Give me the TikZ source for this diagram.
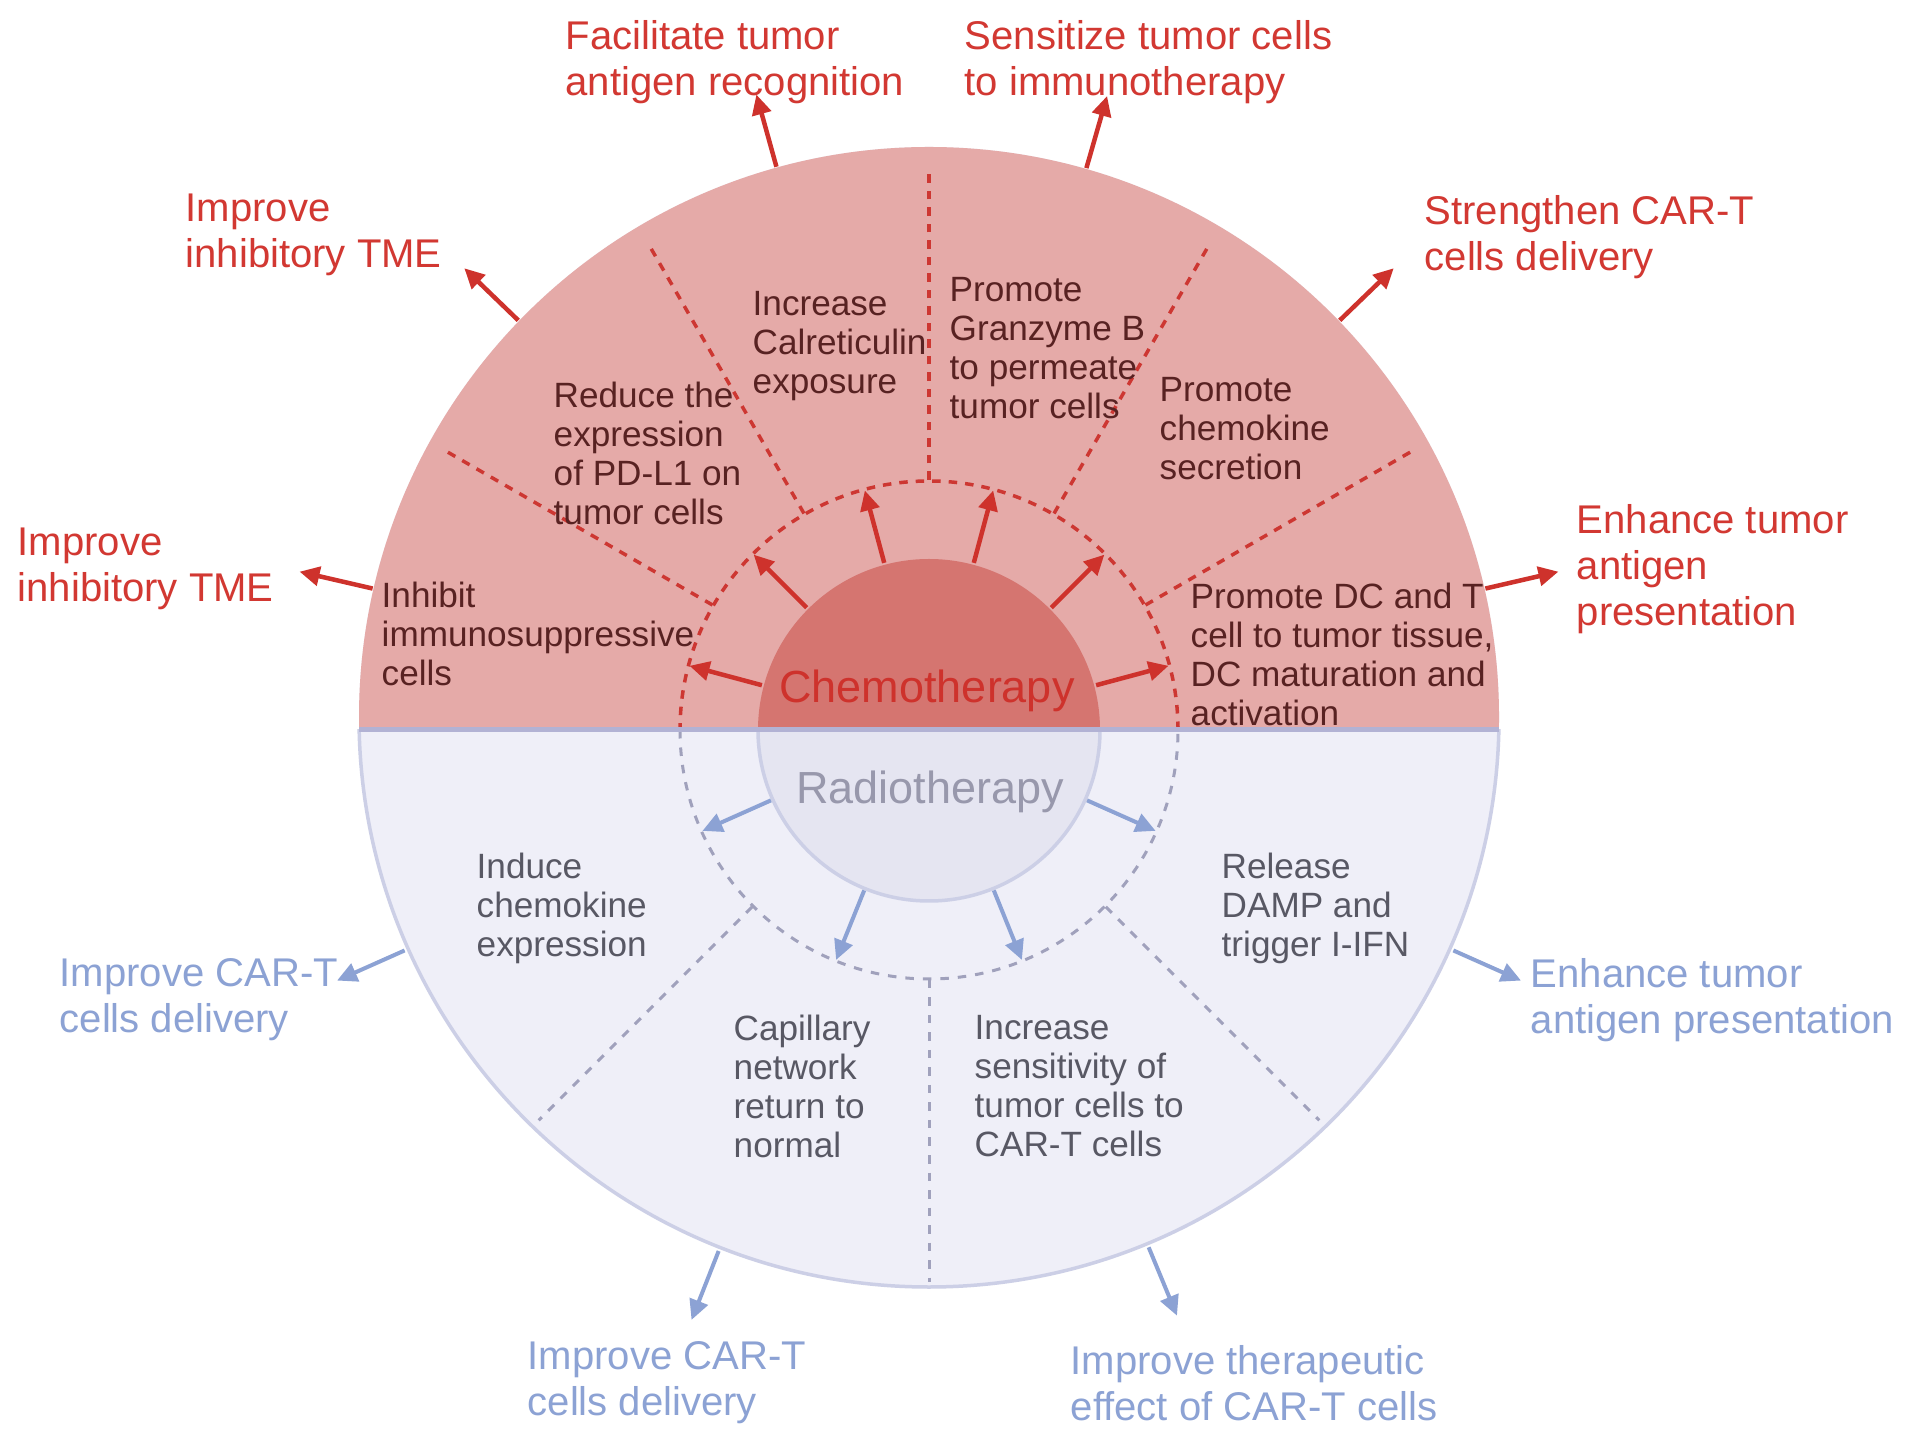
\documentclass[tikz,border=0pt]{standalone}
\usepackage{fontspec}
\setmainfont{Liberation Sans}
\usetikzlibrary{calc,arrows.meta}
\definecolor{pinkfill}{RGB}{229,170,168}
\definecolor{chemofill}{RGB}{213,117,112}
\definecolor{redc}{RGB}{206,50,44}
\definecolor{redtxt}{RGB}{210,56,50}
\definecolor{darktxt}{RGB}{88,34,34}
\definecolor{lavfill}{RGB}{239,239,248}
\definecolor{radiofill}{RGB}{229,229,241}
\definecolor{lavline}{RGB}{204,207,230}
\definecolor{divline}{RGB}{178,178,212}
\definecolor{radiotxt}{RGB}{152,152,172}
\definecolor{bluec}{RGB}{140,162,212}
\definecolor{greytxt}{RGB}{88,88,100}
\definecolor{greydash}{RGB}{160,161,188}
\definecolor{reddash}{RGB}{205,55,50}
\begin{document}
\begin{tikzpicture}[x=0.1mm,y=0.1mm,
  outerlbl/.style={anchor=west, align=left, inner sep=0pt, font=\fontsize{11.4}{13.1}\selectfont},
  redlbl/.style={outerlbl, text=redtxt},
  bluelbl/.style={outerlbl, text=bluec},
  innerlbl/.style={anchor=west, align=left, inner sep=0pt, font=\fontsize{10}{11.1}\selectfont},
  uptxt/.style={innerlbl, text=darktxt},
  lowtxt/.style={innerlbl, text=greytxt},
  centerlbl/.style={inner sep=0pt, font=\fontsize{12.8}{15}\selectfont},
  redarrow/.style={draw=redc, line width=0.45mm, -{Triangle[length=2mm,width=1.9mm]}},
  bluearrow/.style={draw=bluec, line width=0.4mm, -{Triangle[length=2mm,width=1.9mm]}},
  reddiv/.style={draw=reddash, line width=0.35mm, dash pattern=on 0.85mm off 0.8mm},
  greydiv/.style={draw=greydash, line width=0.3mm, dash pattern=on 0.85mm off 0.9mm},
]
\fill[white] (0,0) rectangle (1913,1442);
\useasboundingbox (0,0) rectangle (1913,1442);

\coordinate (Co) at (929,725);
\coordinate (Ci) at (929,712);

% outer disc
\fill[lavfill] (Co) circle[radius=570];
\begin{scope}
  \clip (0,0) rectangle (1913,712);
  \draw[lavline, line width=0.35mm] (Co) circle[radius=570];
\end{scope}
\begin{scope}
  \clip (0,712) rectangle (1913,1442);
  \fill[pinkfill] (Co) circle[radius=570];
\end{scope}

% radial dividers
\foreach \a in {30,60,90,120,150}
  \draw[reddiv] ($(Ci)+(\a:250)$) -- ($(Ci)+(\a:560)$);
\foreach \a in {-45,-90,-135}
  \draw[greydiv] ($(Ci)+(\a:250)$) -- ($(Ci)+(\a:552)$);

% inner dashed circle
\draw[reddiv] ($(Ci)+(249,0)$) arc[start angle=0,end angle=180,radius=249];
\draw[greydiv] ($(Ci)+(-249,0)$) arc[start angle=180,end angle=360,radius=249];

% centre circle
\fill[chemofill] ($(Ci)+(171,0)$) arc[start angle=0,end angle=180,radius=171] -- cycle;
\filldraw[fill=radiofill, draw=lavline, line width=0.35mm] ($(Ci)+(-171,0)$) arc[start angle=180,end angle=360,radius=171];

% horizontal divider
\coordinate (dl) at (359,712);
\coordinate (dr) at (1499,712);
\draw[divline, line width=0.5mm] (dl) -- (dr);

% centre labels
\node[centerlbl, text=redc] (chemo) at (927,751) {Chemotherapy};
\node[centerlbl, text=radiotxt] (radio) at (930,650) {Radiotherapy};

% outer labels
\node[redlbl] (l1) at (565,1380) {Facilitate tumor\\antigen recognition};
\node[redlbl] (l2) at (964,1380) {Sensitize tumor cells\\to immunotherapy};
\node[redlbl] (l3) at (185,1207) {Improve\\inhibitory TME};
\node[redlbl] (l4) at (1424,1205) {Strengthen CAR-T\\cells delivery};
\node[redlbl] (l5) at (17,873) {Improve\\inhibitory TME};
\node[redlbl] (l6) at (1576,873) {Enhance tumor\\antigen\\presentation};
\node[bluelbl] (l7) at (59,442) {Improve CAR-T\\cells delivery};
\node[bluelbl] (l8) at (1530,442) {Enhance tumor\\antigen presentation};
\node[bluelbl] (l9) at (527,59) {Improve CAR-T\\cells delivery};
\node[bluelbl] (l10) at (1070,59) {Improve therapeutic\\effect of CAR-T cells};

% inner labels
\node[uptxt] (t1) at (752,1096) {Increase\\Calreticulin\\exposure};
\node[uptxt] (t2) at (949,1094) {Promote\\Granzyme B\\to permeate\\tumor cells};
\node[uptxt] (t3) at (553,989) {Reduce the\\expression\\of PD-L1 on\\tumor cells};
\node[uptxt] (t4) at (1159,1013) {Promote\\chemokine\\secretion};
\node[uptxt] (t5) at (381,808) {Inhibit\\immunosuppressive\\cells};
\node[uptxt] (t6) at (1190,788) {Promote DC and T\\cell to tumor tissue,\\DC maturation and\\activation};
\node[lowtxt] (b1) at (476,534) {Induce\\chemokine\\expression};
\node[lowtxt] (b2) at (1221,534) {Release\\DAMP and\\trigger I-IFN};
\node[lowtxt] (b3) at (733,356) {Capillary\\network\\return to\\normal};
\node[lowtxt] (b4) at (974,356) {Increase\\sensitivity of\\tumor cells to\\CAR-T cells};

% inner arrows
\foreach \a [count=\i] in {165,135,105,75,45,15} {
  \coordinate (rs\i) at ($(Ci)+(\a:173)$);
  \coordinate (re\i) at ($(Ci)+(\a:248)$);
  \draw[redarrow] (rs\i) -- (re\i);
}
\foreach \a [count=\i] in {-24,-68,-112,-156} {
  \coordinate (bs\i) at ($(Ci)+(\a:173)$);
  \coordinate (be\i) at ($(Ci)+(\a:248)$);
  \draw[bluearrow] (bs\i) -- (be\i);
}

% outer arrows
\foreach \a [count=\i] in {105.5,74,136,44,167,13} {
  \coordinate (os\i) at ($(Co)+(\a:571)$);
  \coordinate (oe\i) at ($(Co)+(\a:646)$);
  \draw[redarrow] (os\i) -- (oe\i);
}
\foreach \a [count=\i] in {204,-24,248.5,-67.5} {
  \coordinate (ps\i) at ($(Co)+(\a:574)$);
  \coordinate (pe\i) at ($(Co)+(\a:648)$);
  \draw[bluearrow] (ps\i) -- (pe\i);
}
\end{tikzpicture}
\end{document}
